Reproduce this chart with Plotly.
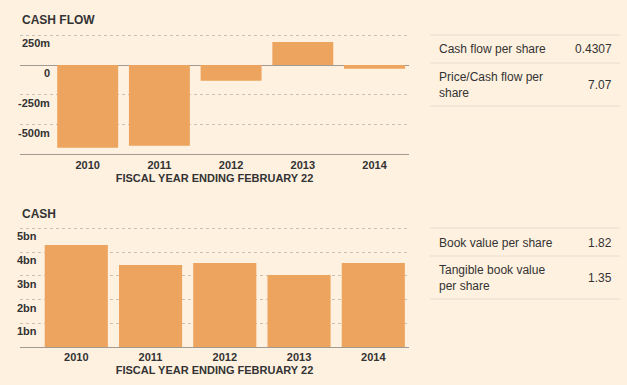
import plotly.graph_objects as go

# ---------------- data ----------------
years = ["2010", "2011", "2012", "2013", "2014"]
cash_flow_m = [-695, -678, -132, 193, -31]          # millions
cash_bn = [4.30, 3.45, 3.54, 3.03, 3.54]           # billions

cf_tickvals = [250, 0, -250, -500]
cf_ticktext = ["250m", "0", "-250m", "-500m"]
cash_tickvals = [5, 4, 3, 2, 1]
cash_ticktext = ["5bn", "4bn", "3bn", "2bn", "1bn"]

cf_table_labels = ["Cash flow per share", "Price/Cash flow per<br>share"]
cf_table_values = ["0.4307", "7.07"]
cash_table_labels = ["Book value per share", "Tangible book value<br>per share"]
cash_table_values = ["1.82", "1.35"]

x_title = "FISCAL YEAR ENDING FEBRUARY 22"

# ---------------- styling ----------------
W, H = 627, 385
BG = "#FFF1E0"
BAR = "#EDA45E"
TXT = "#333333"
GRID = "#c9c0b5"
AXIS = "#a09a92"
TABLE_LINE = "#e8dccb"
FONT = "Arial, Liberation Sans, sans-serif"

def px_x(p):
    return p / W

def px_y(p):
    return 1 - p / H

fig = go.Figure()
fig.add_trace(go.Bar(x=list(range(len(years))), y=cash_flow_m, marker_color=BAR,
                     marker_line_width=0, width=0.85, xaxis="x", yaxis="y",
                     hoverinfo="skip"))
fig.add_trace(go.Bar(x=list(range(len(years))), y=cash_bn, marker_color=BAR,
                     marker_line_width=0, width=0.85, xaxis="x2", yaxis="y2",
                     hoverinfo="skip"))

xdom = [px_x(20), px_x(409)]
common_x = dict(tickmode="array", tickvals=list(range(len(years))), ticktext=years,
                showgrid=False, zeroline=False, showline=True, linecolor=AXIS,
                linewidth=1, ticks="", fixedrange=True,
                tickfont=dict(family=FONT, size=11, color=TXT, weight="bold"),
                title=dict(text=x_title, standoff=4,
                           font=dict(family=FONT, size=11, color=TXT, weight="bold")))
common_y = dict(showticklabels=False, showgrid=True, gridcolor=GRID, griddash="dot",
                gridwidth=1, showline=False, ticks="", fixedrange=True)

# top chart: 119 px per 1000m; bottom chart: 23.74 px per bn
# ranges extended 2 px above the top grid line so it is not clipped
fig.update_layout(
    width=W, height=H, margin=dict(l=0, r=0, t=0, b=0),
    paper_bgcolor=BG, plot_bgcolor=BG, showlegend=False, bargap=0.15,
    xaxis=dict(domain=xdom, anchor="y", range=[-0.944, 4.481], **common_x),
    yaxis=dict(domain=[px_y(154.3), px_y(33.3)], anchor="x", range=[-750, 266.8],
               tickvals=cf_tickvals, zeroline=True, zerolinecolor=AXIS, zerolinewidth=1,
               **common_y),
    xaxis2=dict(domain=xdom, anchor="y2", range=[-0.758, 4.481], **common_x),
    yaxis2=dict(domain=[px_y(347), px_y(226.3)], anchor="x2", range=[0, 5.084],
                tickvals=cash_tickvals, zeroline=False, **common_y),
)

ann = []
# y tick labels (inside plot, below grid lines)
for v, t in zip(cf_tickvals, cf_ticktext):
    ann.append(dict(x=px_x(52), xref="paper", y=v, yref="y", text=t, showarrow=False,
                    xanchor="right", yanchor="middle", yshift=-8,
                    font=dict(family=FONT, size=11, color=TXT, weight="bold")))
for v, t in zip(cash_tickvals, cash_ticktext):
    ann.append(dict(x=px_x(38.5), xref="paper", y=v, yref="y2", text=t, showarrow=False,
                    xanchor="right", yanchor="middle", yshift=-8,
                    font=dict(family=FONT, size=11, color=TXT, weight="bold")))

# chart titles
ann.append(dict(x=px_x(20), y=px_y(20.5), xref="paper", yref="paper", text="CASH FLOW",
                showarrow=False, xanchor="left", yanchor="middle",
                font=dict(family=FONT, size=12, color=TXT, weight="bold")))
ann.append(dict(x=px_x(20), y=px_y(213.5), xref="paper", yref="paper", text="CASH",
                showarrow=False, xanchor="left", yanchor="middle",
                font=dict(family=FONT, size=12, color=TXT, weight="bold")))

# side tables
shapes = []
def add_table(labels, values, lines_px):
    for yy in lines_px:
        shapes.append(dict(type="line", xref="paper", yref="paper",
                           x0=px_x(430), x1=px_x(620), y0=px_y(yy), y1=px_y(yy),
                           line=dict(color=TABLE_LINE, width=1)))
    for i, (lab, val) in enumerate(zip(labels, values)):
        mid = (lines_px[i] + lines_px[i + 1]) / 2
        ann.append(dict(x=px_x(437), y=px_y(mid + 0.5), xref="paper", yref="paper",
                        text=lab, showarrow=False, xanchor="left", yanchor="middle",
                        align="left", font=dict(family=FONT, size=12, color=TXT)))
        ann.append(dict(x=px_x(614), y=px_y(mid + 0.5), xref="paper", yref="paper",
                        text=val, showarrow=False, xanchor="right", yanchor="middle",
                        align="right", font=dict(family=FONT, size=12, color=TXT)))

add_table(cf_table_labels, cf_table_values, [35, 63, 106])
add_table(cash_table_labels, cash_table_values, [228, 256, 299])

fig.update_layout(annotations=ann, shapes=shapes)
fig.write_html("out.html", config={"displayModeBar": False},
               post_script="document.body.style.margin='0';"
                           "document.body.style.background='#FFF1E0';")
